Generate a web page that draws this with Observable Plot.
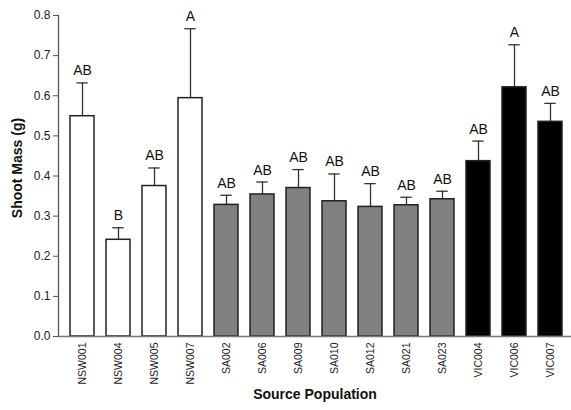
<!DOCTYPE html>
<html>
<head>
<meta charset="utf-8">
<script src="https://cdn.jsdelivr.net/npm/d3@7"></script>
<script src="https://cdn.jsdelivr.net/npm/@observablehq/plot@0.6"></script>
<style>
  html, body { margin: 0; padding: 0; background: #fff; }
  #chart { width: 571px; height: 410px; }
</style>
</head>
<body>
<div id="chart"></div>
<script>
const populations = ["NSW001","NSW004","NSW005","NSW007","SA002","SA006","SA009","SA010","SA012","SA021","SA023","VIC004","VIC006","VIC007"];
const regions = ["NSW","NSW","NSW","NSW","SA","SA","SA","SA","SA","SA","SA","VIC","VIC","VIC"];
const meanMass = [0.549,0.241,0.375,0.594,0.328,0.354,0.370,0.337,0.323,0.327,0.342,0.437,0.621,0.535];
const errTop = [0.632,0.271,0.420,0.767,0.352,0.385,0.416,0.405,0.381,0.347,0.362,0.487,0.727,0.581];
const letters = ["AB","B","AB","A","AB","AB","AB","AB","AB","AB","AB","AB","A","AB"];
const yTicks = [0,0.1,0.2,0.3,0.4,0.5,0.6,0.7,0.8];
const regionNames = ["NSW","SA","VIC"];
const regionColors = ["#ffffff","#808080","#000000"];

const data = populations.map((p, i) => ({pop: p, region: regions[i], mean: meanMass[i], err: errTop[i], letter: letters[i]}));

const chart = Plot.plot({
  width: 571,
  height: 410,
  marginLeft: 58,
  marginRight: 0,
  marginTop: 15,
  marginBottom: 74,
  style: {fontFamily: "Liberation Sans, Arial, sans-serif", color: "#222", background: "#fff"},
  x: {domain: populations, range: [63.5, 568], paddingInner: 0.32, paddingOuter: 0.16, label: null},
  y: {domain: [0, 0.8], label: null},
  color: {type: "ordinal", domain: regionNames, range: regionColors},
  marks: [
    Plot.ruleX(data, {x: "pop", y1: "mean", y2: "err", stroke: "#333", strokeWidth: 1.3}),
    Plot.tickY(data, {x: "pop", y: "err", stroke: "#333", strokeWidth: 1.3, insetLeft: 6.3, insetRight: 6.3}),
    Plot.barY(data, {x: "pop", y: "mean", fill: "region", stroke: "#222", strokeWidth: 1.5}),
    Plot.text(data, {x: "pop", y: "err", text: "letter", dy: -12, fontSize: 14, fill: "#111"}),
    Plot.axisY({ticks: yTicks, tickFormat: d3.format(".1f"), tickSize: 5, tickPadding: 3, fontSize: 12, stroke: "#555", label: null}),
    Plot.axisX({tickRotate: -90, tickSize: 0, tickPadding: 6, fontSize: 10.5, label: null}),
    Plot.frame({anchor: "left", stroke: "#555", strokeWidth: 1.3}),
    Plot.frame({anchor: "bottom", stroke: "#777", strokeWidth: 1.3}),
    Plot.text(["Source Population"], {frameAnchor: "bottom", dy: 62, fontSize: 14, fontWeight: "bold", fill: "#111"}),
    Plot.text(["Shoot Mass (g)"], {frameAnchor: "left", textAnchor: "middle", dx: -41, dy: -8, rotate: -90, fontSize: 14, fontWeight: "bold", fill: "#111"})
  ]
});
document.getElementById("chart").append(chart);
</script>
</body>
</html>
